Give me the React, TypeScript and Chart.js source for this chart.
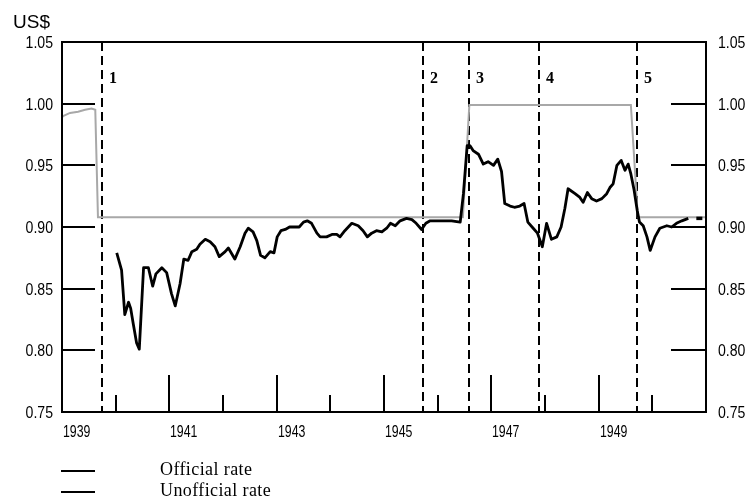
import React, { useEffect, useRef } from "react";
import { Chart, registerables } from "chart.js";

Chart.register(...registerables);

// Unofficial (free market) rate, US$ per Canadian dollar
const unofficialYears = [
  1940.02, 1940.11, 1940.17, 1940.24, 1940.28, 1940.33, 1940.39, 1940.44, 1940.52, 1940.61,
  1940.69, 1940.75, 1940.86, 1940.95, 1941.04, 1941.11, 1941.2, 1941.27, 1941.35, 1941.42,
  1941.51, 1941.57, 1941.67, 1941.76, 1941.85, 1941.93, 1942.04, 1942.1, 1942.22, 1942.32,
  1942.41, 1942.47, 1942.56, 1942.63, 1942.7, 1942.78, 1942.88, 1942.95, 1943.01, 1943.08,
  1943.16, 1943.24, 1943.34, 1943.42, 1943.5, 1943.57, 1943.65, 1943.75, 1943.81, 1943.93,
  1944.03, 1944.12, 1944.18, 1944.27, 1944.4, 1944.52, 1944.61, 1944.69, 1944.77, 1944.86,
  1944.96, 1945.05, 1945.12, 1945.21, 1945.3, 1945.42, 1945.52, 1945.6, 1945.7, 1945.78,
  1945.86, 1945.98, 1946.11, 1946.26, 1946.42, 1946.48, 1946.55, 1946.6, 1946.66, 1946.76,
  1946.85, 1946.94, 1947.04, 1947.12, 1947.19, 1947.25, 1947.35, 1947.43, 1947.53, 1947.61,
  1947.68, 1947.78, 1947.86, 1947.95, 1948.03, 1948.12, 1948.22, 1948.3, 1948.37, 1948.43,
  1948.56, 1948.65, 1948.71, 1948.79, 1948.87, 1948.96, 1949.06, 1949.15, 1949.21, 1949.27,
  1949.34, 1949.42, 1949.49, 1949.55, 1949.6, 1949.66, 1949.72, 1949.76, 1949.83, 1949.9,
  1949.96, 1950.05, 1950.14, 1950.27, 1950.36, 1950.45, 1950.55, 1950.67,
];
const unofficialValues = [
  0.879, 0.865, 0.829, 0.839, 0.834, 0.821, 0.806, 0.801, 0.867, 0.867,
  0.852, 0.862, 0.867, 0.863, 0.846, 0.836, 0.854, 0.874, 0.873, 0.88,
  0.882, 0.886, 0.89, 0.888, 0.884, 0.876, 0.88, 0.883, 0.874, 0.884,
  0.895, 0.899, 0.896, 0.889, 0.877, 0.875, 0.88, 0.879, 0.892, 0.897,
  0.898, 0.9, 0.9, 0.9, 0.904, 0.905, 0.903, 0.895, 0.892, 0.892,
  0.894, 0.894, 0.892, 0.897, 0.903, 0.901, 0.897, 0.892, 0.895, 0.897,
  0.896, 0.899, 0.903, 0.901, 0.905, 0.907, 0.906, 0.903, 0.898, 0.903,
  0.905, 0.905, 0.905, 0.905, 0.904, 0.927, 0.966, 0.966, 0.962, 0.959,
  0.951, 0.953, 0.95, 0.955, 0.945, 0.919, 0.917, 0.916, 0.917, 0.919,
  0.904, 0.899, 0.895, 0.884, 0.903, 0.89, 0.892, 0.9, 0.915, 0.931,
  0.927, 0.924, 0.92, 0.928, 0.923, 0.921, 0.923, 0.927, 0.932, 0.935,
  0.95, 0.954, 0.946, 0.951, 0.943, 0.93, 0.913, 0.904, 0.901, 0.892,
  0.881, 0.892, 0.899, 0.901, 0.9, 0.903, 0.905, 0.907,
];
const tailYears = [1950.82, 1951.0];
const tailValues = [0.907, 0.907];

// Official rate
const officialYears = [
  1939.0, 1939.02, 1939.15, 1939.3, 1939.43, 1939.55, 1939.62, 1939.67,
  1946.47, 1946.59, 1949.6, 1949.73, 1951.0,
];
const officialValues = [
  0.989, 0.99, 0.9925, 0.9935, 0.995, 0.996, 0.995, 0.908,
  0.908, 0.999, 0.999, 0.908, 0.908,
];

const periodYears = [1939.745, 1945.726, 1946.583, 1947.888, 1949.714];
const periodLabels = ["1", "2", "3", "4", "5"];
const seriesLabels = ["Official rate", "Unofficial rate"];
const yUnit = "US$";
const yearLabels = ["1939", "1941", "1943", "1945", "1947", "1949"];

const tickFont = "16px 'Liberation Sans', Arial, sans-serif";

function squeezedText(ctx: any, text: string, x: number, y: number, sx: number, align: string) {
  ctx.save();
  ctx.translate(x, y);
  ctx.scale(sx, 1);
  ctx.textAlign = align;
  ctx.fillText(text, 0, 0);
  ctx.restore();
}

const decor = {
  id: "decor",
  beforeDatasetsDraw(chart: any) {
    const { ctx, chartArea: a, scales } = chart;
    const xs = scales.x;
    ctx.save();
    ctx.strokeStyle = "#000";
    ctx.lineWidth = 2;
    ctx.setLineDash([9, 5]);
    periodYears.forEach((yr) => {
      const px = Math.round(xs.getPixelForValue(yr));
      ctx.beginPath();
      ctx.moveTo(px, a.top);
      ctx.lineTo(px, a.bottom);
      ctx.stroke();
    });
    ctx.setLineDash([]);
    ctx.fillStyle = "#000";
    ctx.font = "bold 16px 'Liberation Serif', serif";
    ctx.textAlign = "left";
    ctx.textBaseline = "alphabetic";
    periodYears.forEach((yr, i) => {
      const px = xs.getPixelForValue(yr);
      ctx.fillText(periodLabels[i], px + 7, a.top + 41);
    });
    ctx.restore();
  },
  afterDraw(chart: any) {
    const { ctx, chartArea: a, scales } = chart;
    const xs = scales.x;
    const ys = scales.y;
    ctx.save();
    ctx.strokeStyle = "#000";
    ctx.fillStyle = "#000";
    ctx.lineWidth = 2;
    ctx.setLineDash([]);
    ctx.font = tickFont;
    ctx.textBaseline = "alphabetic";
    // y ticks inward, both sides, with labels
    ys.ticks.forEach((t: any) => {
      const py = Math.round(ys.getPixelForValue(t.value));
      const lab = Number(t.value).toFixed(2);
      squeezedText(ctx, lab, a.left - 9, py + 6, 0.88, "right");
      squeezedText(ctx, lab, a.right + 12, py + 6, 0.88, "left");
      if (t.value <= ys.min + 1e-6 || t.value >= ys.max - 1e-6) return;
      ctx.beginPath();
      ctx.moveTo(a.left, py);
      ctx.lineTo(a.left + 33, py);
      ctx.moveTo(a.right - 35, py);
      ctx.lineTo(a.right, py);
      ctx.stroke();
    });
    // x ticks inward, with labels
    xs.ticks.forEach((t: any) => {
      const v = Math.round(t.value);
      const px = Math.round(xs.getPixelForValue(v));
      const lab = String(v);
      if (yearLabels.indexOf(lab) >= 0) {
        squeezedText(ctx, lab, px + 1, a.bottom + 25, 0.77, "left");
      }
      if (v <= xs.min || v >= xs.max) return;
      const len = v % 2 === 1 ? 37 : 17;
      ctx.beginPath();
      ctx.moveTo(px, a.bottom);
      ctx.lineTo(px, a.bottom - len);
      ctx.stroke();
    });
    // frame
    ctx.strokeRect(a.left, a.top, a.right - a.left, a.bottom - a.top);
    // unit label
    ctx.font = "19px 'Liberation Sans', Arial, sans-serif";
    ctx.textAlign = "left";
    ctx.fillText(yUnit, 13, 28);
    // legend
    ctx.lineWidth = 2;
    const rows = [471, 492];
    ctx.font = "18px 'Liberation Serif', serif";
    try {
      (ctx as any).letterSpacing = "0.4px";
    } catch (e) {}
    ctx.textBaseline = "middle";
    rows.forEach((ry, i) => {
      ctx.beginPath();
      ctx.moveTo(61, ry);
      ctx.lineTo(95, ry);
      ctx.stroke();
      ctx.fillText(seriesLabels[i], 160, ry - 1);
    });
    ctx.restore();
  },
};

export default function App() {
  const ref = useRef<HTMLCanvasElement | null>(null);
  useEffect(() => {
    document.body.style.margin = "0";
    const canvas = ref.current;
    if (!canvas) return;
    const chart = new Chart(canvas, {
      type: "line",
      data: {
        datasets: [
          {
            label: seriesLabels[1],
            data: unofficialYears.map((x, i) => ({ x, y: unofficialValues[i] })),
            borderColor: "#000",
            borderWidth: 2.8,
            pointRadius: 0,
            tension: 0,
            borderJoinStyle: "round",
          },
          {
            label: seriesLabels[1] + " (end)",
            data: tailYears.map((x, i) => ({ x, y: tailValues[i] })),
            borderColor: "#000",
            borderWidth: 3.5,
            borderDash: [6, 5],
            pointRadius: 0,
            tension: 0,
          },
          {
            label: seriesLabels[0],
            data: officialYears.map((x, i) => ({ x, y: officialValues[i] })),
            borderColor: "#a8a8a8",
            borderWidth: 2,
            pointRadius: 0,
            tension: 0,
          },
        ],
      },
      options: {
        responsive: false,
        animation: false,
        devicePixelRatio: 1,
        layout: { padding: { top: 42, left: 0, right: 0, bottom: 0 } },
        plugins: { legend: { display: false }, tooltip: { enabled: false } },
        scales: {
          x: {
            type: "linear",
            position: "bottom",
            min: 1939,
            max: 1951,
            grid: { display: false },
            border: { display: false },
            ticks: { stepSize: 1, autoSkip: false, display: false },
            afterFit: (s: any) => {
              s.height = 88;
            },
          },
          y: {
            type: "linear",
            position: "left",
            min: 0.75,
            max: 1.05,
            grid: { display: false },
            border: { display: false },
            ticks: { stepSize: 0.05, display: false },
            afterFit: (s: any) => {
              s.width = 62;
            },
          },
          y2: {
            type: "linear",
            position: "right",
            min: 0.75,
            max: 1.05,
            grid: { display: false },
            border: { display: false },
            ticks: { stepSize: 0.05, display: false },
            afterFit: (s: any) => {
              s.width = 40;
            },
          },
        },
      },
      plugins: [decor],
    });
    return () => chart.destroy();
  }, []);
  return (
    <div style={{ width: 746, height: 500, position: "relative" }}>
      <canvas ref={ref} width={746} height={500} style={{ display: "block" }} />
    </div>
  );
}
